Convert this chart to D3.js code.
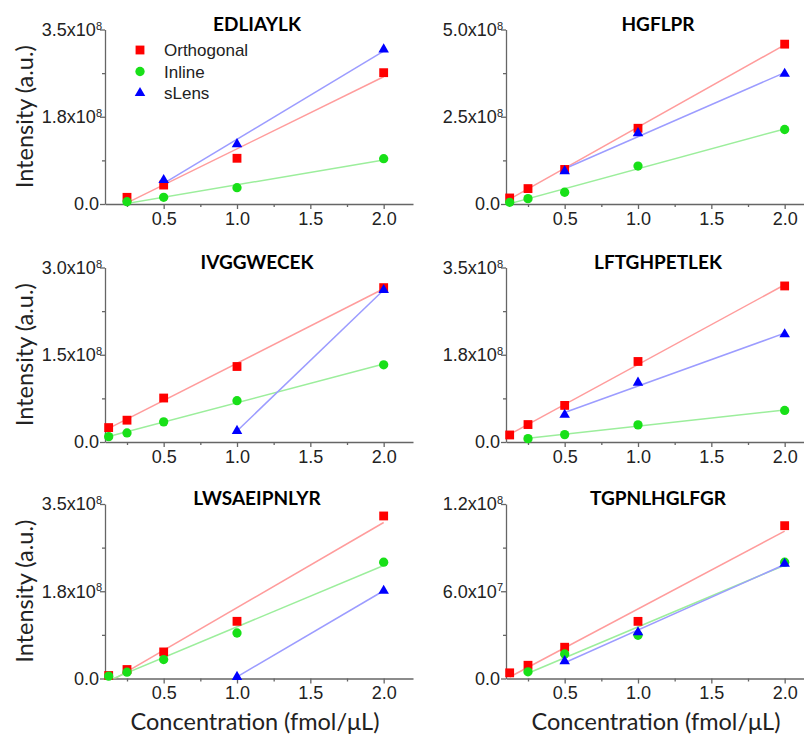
<!DOCTYPE html>
<html>
<head>
<meta charset="utf-8">
<script src="https://cdn.jsdelivr.net/npm/d3@7"></script>
<style>
  body { margin: 0; background: #fff; }
  .tick text { fill: #222; }
</style>
</head>
<body>
<svg id="chart"></svg>
<script>
// concentrations (fmol/uL) shared by all panels
var concentrations = [0.125, 0.25, 0.5, 1.0, 2.0];
var peptides = ["EDLIAYLK", "HGFLPR", "IVGGWECEK", "LFTGHPETLEK", "LWSAEIPNLYR", "TGPNLHGLFGR"];
var yMax = [3.5e8, 5.0e8, 3.0e8, 3.5e8, 3.5e8, 1.2e8];
// y tick labels as [mantissa, exponent]
var yTickLabels = [
  [["0.0", ""], ["1.8x10", "8"], ["3.5x10", "8"]],
  [["0.0", ""], ["2.5x10", "8"], ["5.0x10", "8"]],
  [["0.0", ""], ["1.5x10", "8"], ["3.0x10", "8"]],
  [["0.0", ""], ["1.8x10", "8"], ["3.5x10", "8"]],
  [["0.0", ""], ["1.8x10", "8"], ["3.5x10", "8"]],
  [["0.0", ""], ["6.0x10", "7"], ["1.2x10", "8"]]
];
var xTicks = [0.5, 1.0, 1.5, 2.0];
var xMinorTicks = [0.25, 0.75, 1.25, 1.75];
var seriesNames = ["Orthogonal", "Inline", "sLens"];

// intensities (a.u.), one row per peptide, null = not detected
var orthogonal = [
  [null, 0.134e8, 0.38e8, 0.917e8, 2.634e8],
  [0.173e8, 0.442e8, 0.99e8, 2.17e8, 4.58e8],
  [0.248e8, 0.375e8, 0.756e8, 1.298e8, 2.654e8],
  [0.141e8, 0.35e8, 0.734e8, 1.615e8, 3.13e8],
  [0.06e8, 0.18e8, 0.533e8, 1.147e8, 3.26e8],
  [0.039e8, 0.091e8, 0.215e8, 0.393e8, 1.051e8]
];
var inline = [
  [null, 0.046e8, 0.134e8, 0.327e8, 0.909e8],
  [0.048e8, 0.154e8, 0.337e8, 1.087e8, 2.135e8],
  [0.092e8, 0.156e8, 0.346e8, 0.71e8, 1.327e8],
  [null, 0.067e8, 0.148e8, 0.343e8, 0.633e8],
  [0.047e8, 0.127e8, 0.38e8, 0.913e8, 2.333e8],
  [null, 0.046e8, 0.169e8, 0.297e8, 0.80e8]
];
var sLens = [
  [null, null, 0.48e8, 1.2e8, 3.10e8],
  [null, null, 0.94e8, 2.03e8, 3.73e8],
  [null, null, null, 0.19e8, 2.613e8],
  [null, null, 0.545e8, 1.19e8, 2.16e8],
  [null, null, null, 0.033e8, 1.76e8],
  [null, null, 0.119e8, 0.318e8, 0.789e8]
];

var markerColors = ["#ff0000", "#18e018", "#0000ff"];
var lineColors = ["#ff9c9c", "#9cee9c", "#9c9cff"];
var symbols = [d3.symbolSquare, d3.symbolCircle, d3.symbolTriangle];
var symbolSizes = [78, 68, 48];

var colX = [105, 506];
var rowTop = [29.5, 267.5, 504];
var plotW = 308, plotH = 174.5;
var axisColor = "#666";
var tickFont = "'Liberation Sans', Arial, sans-serif";
var titleFont = "Lato, 'Open Sans', sans-serif";

var svg = d3.select("#chart").attr("width", 804).attr("height", 737);
svg.append("rect").attr("width", 804).attr("height", 737).attr("fill", "#fff");

var defs = svg.append("defs");
defs.append("clipPath").attr("id", "plotclip")
  .append("rect").attr("width", plotW).attr("height", plotH);

// least squares line through the points
function linFit(pts) {
  var mx = d3.mean(pts, function (p) { return p[0]; });
  var my = d3.mean(pts, function (p) { return p[1]; });
  var sxx = d3.sum(pts, function (p) { return (p[0] - mx) * (p[0] - mx); });
  var sxy = d3.sum(pts, function (p) { return (p[0] - mx) * (p[1] - my); });
  var slope = sxy / sxx;
  return { slope: slope, icpt: my - slope * mx };
}

peptides.forEach(function (name, i) {
  var col = i % 2, row = Math.floor(i / 2);
  var g = svg.append("g").attr("transform", "translate(" + colX[col] + "," + rowTop[row] + ")");

  var x = d3.scaleLinear().domain([0.1, 2.2]).range([0, plotW]);
  var y = d3.scaleLinear().domain([0, yMax[i]]).range([plotH, 0]);

  // x axis, major + minor
  var xa = g.append("g").attr("transform", "translate(0," + plotH + ")")
    .call(d3.axisBottom(x).tickValues(xTicks).tickFormat(d3.format(".1f"))
      .tickSize(5).tickSizeOuter(0).tickPadding(3));
  g.append("g").attr("transform", "translate(0," + plotH + ")")
    .call(d3.axisBottom(x).tickValues(xMinorTicks).tickFormat("").tickSize(3).tickSizeOuter(0))
    .select(".domain").remove();
  xa.selectAll("text").style("font-family", tickFont).style("font-size", "18px");

  // y axis, major + minor
  var yt = [0, yMax[i] / 2, yMax[i]];
  var ya = g.append("g")
    .call(d3.axisLeft(y).tickValues(yt).tickFormat(function (d, k) { return yTickLabels[i][k][0]; })
      .tickSize(5).tickSizeOuter(0));
  g.append("g")
    .call(d3.axisLeft(y).tickValues([yMax[i] / 4, yMax[i] * 3 / 4]).tickFormat("").tickSize(3).tickSizeOuter(0))
    .select(".domain").remove();
  ya.selectAll("text")
    .style("font-family", tickFont).style("font-size", "18px")
    .attr("x", function (d, k) { return yTickLabels[i][k][1] ? -3 : -6; })
    .each(function (d, k) {
      var sup = yTickLabels[i][k][1];
      if (sup) d3.select(this).append("tspan").attr("dy", "-0.55em").style("font-size", "11px").text(sup);
    });

  g.selectAll(".domain, .tick line").attr("stroke", axisColor).attr("stroke-width", 1.3);

  // title
  g.append("text").attr("x", 152).attr("y", 1)
    .attr("text-anchor", "middle")
    .style("font-family", titleFont).style("font-weight", "bold").style("font-size", "19px")
    .text(name);

  var all = [orthogonal[i], inline[i], sLens[i]];
  // fit lines
  var lines = g.append("g").attr("clip-path", "url(#plotclip)");
  all.forEach(function (vals, s) {
    var pts = concentrations.map(function (c, k) { return [c, vals[k]]; })
      .filter(function (p) { return p[1] != null; });
    var f = linFit(pts);
    var x0 = pts[0][0], x1 = pts[pts.length - 1][0];
    lines.append("line")
      .attr("x1", x(x0)).attr("y1", y(f.icpt + f.slope * x0))
      .attr("x2", x(x1)).attr("y2", y(f.icpt + f.slope * x1))
      .attr("stroke", lineColors[s]).attr("stroke-width", 1.5);
  });
  // markers
  all.forEach(function (vals, s) {
    var pts = concentrations.map(function (c, k) { return [c, vals[k]]; })
      .filter(function (p) { return p[1] != null; });
    g.selectAll(".m" + s).data(pts).enter().append("path")
      .attr("class", "m" + s)
      .attr("d", d3.symbol().type(symbols[s]).size(symbolSizes[s]))
      .attr("transform", function (p) { return "translate(" + x(p[0]) + "," + y(p[1]) + ")"; })
      .attr("fill", markerColors[s]);
  });

  // legend only in the first panel
  if (i == 0) {
    seriesNames.forEach(function (sn, s) {
      var ly = 20.5 + s * 21.5;
      g.append("path")
        .attr("d", d3.symbol().type(symbols[s]).size(symbolSizes[s]))
        .attr("transform", "translate(35," + ly + ")")
        .attr("fill", markerColors[s]);
      g.append("text").attr("x", 59).attr("y", ly + 6)
        .style("font-family", tickFont).style("font-size", "17px").attr("fill", "#222")
        .text(sn);
    });
  }

  // axis titles
  if (col == 0) {
    g.append("text")
      .attr("transform", "translate(-72," + (plotH / 2) + ") rotate(-90)")
      .attr("text-anchor", "middle")
      .style("font-family", titleFont).style("font-size", "23.5px").attr("fill", "#222")
      .text("Intensity (a.u.)");
  }
  if (row == 2) {
    g.append("text").attr("x", 150).attr("y", plotH + 51)
      .attr("text-anchor", "middle")
      .style("font-family", titleFont).style("font-size", "23.5px").attr("fill", "#222")
      .text("Concentration (fmol/μL)");
  }
});
</script>
</body>
</html>
